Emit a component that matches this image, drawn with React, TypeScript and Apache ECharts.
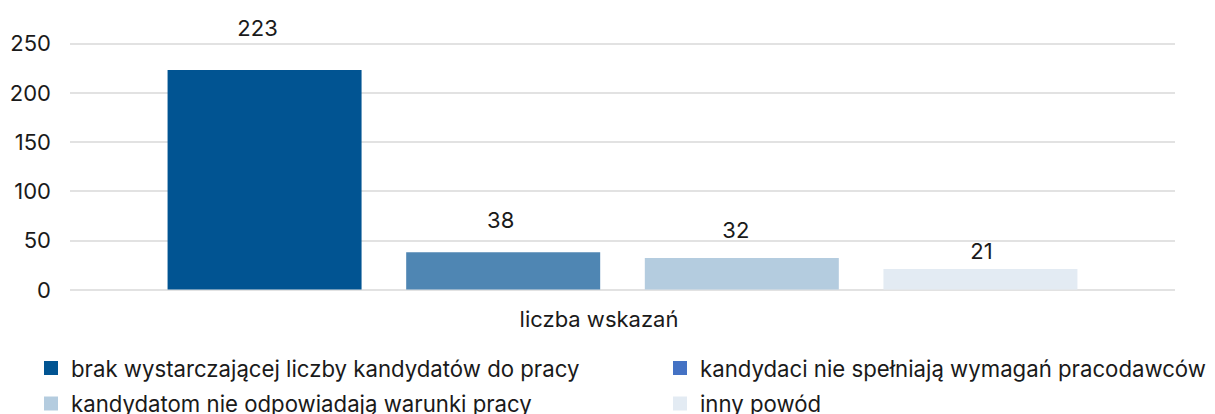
import React, { useEffect, useRef } from "react";
import * as echarts from "echarts";

const categories = ["liczba wskazań"];
const seriesNames = [
  "brak wystarczającej liczby kandydatów do pracy",
  "kandydaci nie spełniają wymagań pracodawców",
  "kandydatom nie odpowiadają warunki pracy",
  "inny powód",
];
const seriesValues = [223, 38, 32, 21];
const barColors = ["#015492", "#4F86B3", "#B4CCDF", "#E3EBF3"];
const legendColors = ["#015492", "#4472C4", "#B4CCDF", "#E3EBF3"];
const labelDistances = [31, 21, 17, 7];
const labelShiftX = [-7, -2.5, -6, 1];
const yTicks = { min: 0, max: 250, interval: 50 };

const FONT = "Inter, 'Noto Sans', sans-serif";
const legendPos = [
  { left: 44, top: 357 },
  { left: 673, top: 357 },
  { left: 44, top: 392.5 },
  { left: 673, top: 392.5 },
];

export default function App() {
  const ref = useRef<HTMLDivElement>(null);
  useEffect(() => {
    if (!ref.current) return;
    const chart = echarts.init(ref.current, undefined, { renderer: "svg" });
    const series = seriesNames.map((name, i) => ({
      name,
      type: "bar",
      data: [seriesValues[i]],
      barWidth: 194,
      barGap: "23%",
      itemStyle: { color: barColors[i] },
      label: {
        show: true,
        position: "top",
        distance: labelDistances[i],
        offset: [labelShiftX[i], 0],
        color: "#1a1a1a",
        fontSize: 22,
        fontFamily: FONT,
      },
    }));
    const legends = seriesNames.map((name, i) => ({
      orient: "horizontal",
      icon: "rect",
      itemWidth: 14,
      itemHeight: 14,
      left: legendPos[i].left,
      top: legendPos[i].top,
      padding: 0,
      data: [{ name, itemStyle: { color: legendColors[i] } }],
      textStyle: {
        fontSize: 22.2,
        lineHeight: 22,
        fontFamily: FONT,
        color: "#1a1a1a",
        padding: [0, 0, 0, 8],
      },
    }));
    chart.setOption({
      animation: false,
      backgroundColor: "#ffffff",
      grid: { left: 70, top: 43.3, width: 1105, height: 246.3 },
      xAxis: {
        type: "category",
        data: categories,
        axisLine: { show: false },
        axisTick: { show: false },
        axisLabel: {
          margin: 18,
          fontSize: 22,
          fontFamily: FONT,
          color: "#1a1a1a",
          padding: [0, 47, 0, 0],
        },
      },
      yAxis: {
        type: "value",
        min: yTicks.min,
        max: yTicks.max,
        interval: yTicks.interval,
        axisLine: { show: false },
        axisTick: { show: false },
        axisLabel: { margin: 19, fontSize: 22, fontFamily: FONT, color: "#1a1a1a" },
        splitLine: { lineStyle: { color: "#D9D9D9", width: 1.5 } },
      },
      legend: legends,
      series,
    });
    return () => chart.dispose();
  }, []);
  return (
    <div
      ref={ref}
      style={{ position: "fixed", left: 0, top: 0, width: 1215, height: 414 }}
    />
  );
}
